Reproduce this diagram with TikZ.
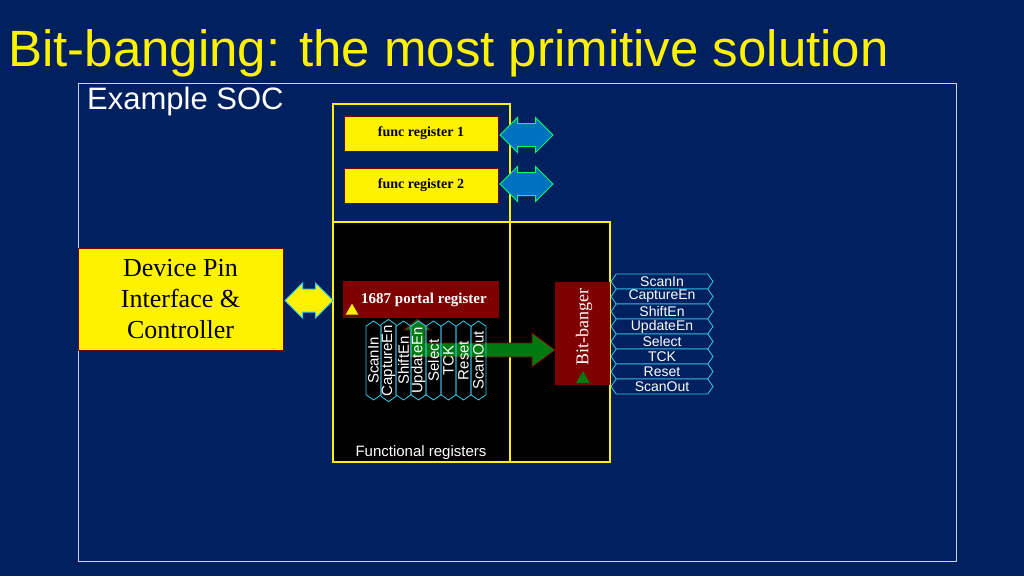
\documentclass[tikz,border=0pt]{standalone}
\usepackage{fontspec}
\setmainfont{Liberation Serif}
\setsansfont{Liberation Sans}
\usetikzlibrary{shapes.symbols,shapes.arrows,shapes.geometric}
\definecolor{navy}{HTML}{002060}
\definecolor{darkred}{HTML}{7F0000}
\definecolor{tabcyan}{HTML}{33CCEE}
\definecolor{arrowblue}{HTML}{0070C0}
\definecolor{arrowgreen}{HTML}{007A10}
\tikzset{
  funcreg/.style={draw=darkred, fill=yellow, minimum width=154pt, minimum height=35pt,
    font=\fontsize{14}{16}\selectfont\bfseries},
  tab/.style={signal, signal to=east and west, signal pointer angle=110, draw=tabcyan,
    line width=0.8pt, text=white, inner sep=0pt,
    font=\sffamily\fontsize{14}{14}\selectfont},
  rtab/.style={tab, fill=navy, minimum width=102pt, minimum height=15pt},
  vtab/.style={tab, rotate=90, minimum width=79pt, minimum height=15pt,
    font=\sffamily\fontsize{15}{15}\selectfont},
  busarrow/.style={double arrow, double arrow head extend=6pt, line width=1pt,
    minimum height=53pt, inner xsep=0pt, inner ysep=11pt},
}
\begin{document}
\begin{tikzpicture}[x=1pt, y=-1pt]
  \fill[navy] (0,0) rectangle (1024,576);
  \useasboundingbox (0,0) rectangle (1024,576);
  % title and frame
  \node[anchor=base west, text=yellow, font=\sffamily\fontsize{51}{52}\selectfont, inner sep=0pt]
    (title) at (8,66) {Bit-banging: the most primitive solution};
  \draw[white!80!navy, line width=0.8pt] (78,83) rectangle (956,561);
  \node[anchor=west, text=white, font=\sffamily\fontsize{31}{32}\selectfont, inner sep=0pt]
    (soc) at (87,101) {Example SOC};
  % blocks
  \fill[black] (333,222) rectangle (610,462);
  \draw[yellow, line width=1.2pt] (333,104) rectangle (510,462);
  \draw[yellow, line width=1.2pt] (333,222) rectangle (610,462);
  \node[funcreg] (reg1) at (421,133.5) {func register 1};
  \node[funcreg] (reg2) at (421,185.5) {func register 2};
  \node[busarrow, fill=arrowblue, draw=green!60!cyan] (bus1) at (526.5,135) {};
  \node[busarrow, fill=arrowblue, draw=green!60!cyan] (bus2) at (526.5,184) {};
  \node[draw=darkred, fill=yellow, minimum width=205pt, minimum height=102pt, align=center,
    font=\fontsize{26}{31}\selectfont] (pin) at (180.5,299)
    {Device Pin\\Interface \&\\Controller};
  \node[busarrow, fill=yellow, draw=tabcyan, minimum height=48pt] (pinbus) at (309,300.5) {};
  \node[fill=darkred, minimum width=156pt, minimum height=37pt, text=white,
    font=\fontsize{15}{16}\selectfont\bfseries] (portal) at (421,299.5) {\hspace{6pt}1687 portal register};
  \node[isosceles triangle, isosceles triangle apex angle=60, shape border rotate=90,
    fill=yellow, minimum size=11pt, inner sep=0pt] (portaltri) at (352,311) {};
  \node[fill=darkred, minimum width=55pt, minimum height=103pt] (bb) at (582.5,333.5) {};
  \node[rotate=90, text=white, font=\fontsize{18}{18}\selectfont] (bbtext) at (584,327) {Bit-banger};
  % data path
  \draw[darkred, fill=arrowgreen, line width=0.8pt]
    (410,357) -- (410,330) -- (404,330) -- (417.5,319) -- (431,330) -- (425,330)
    -- (425,343) -- (532,343) -- (532,333) -- (555,350) -- (532,367) -- (532,357) -- cycle;
  \node[isosceles triangle, isosceles triangle apex angle=60, shape border rotate=90,
    fill=arrowgreen, minimum size=12pt, inner sep=0pt] (bbtri) at (583,379) {};
  % signal tabs
  \foreach \sig [count=\i] in {ScanIn,CaptureEn,ShiftEn,UpdateEn,Select,TCK,Reset,ScanOut} {
    \node[vtab] (vt\i) at ({366+7.5+15*(\i-1)},360.5) {\sig};
    \node[rtab] (rt\i) at (662,{281.5+15*(\i-1)}) {\sig};
  }
  \node[text=white, font=\sffamily\fontsize{15}{16}\selectfont] (funcs) at (421,453) {Functional registers};
\end{tikzpicture}
\end{document}
